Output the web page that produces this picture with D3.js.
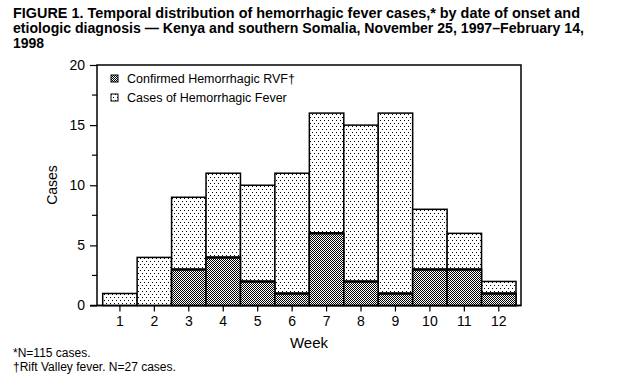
<!DOCTYPE html>
<html>
<head>
<meta charset="utf-8">
<script src="https://cdn.jsdelivr.net/npm/d3@7"></script>
<style>
  body { margin: 0; background: #fff; }
  svg { display: block; font-family: "Liberation Sans", Arial, sans-serif; }
</style>
</head>
<body>
<div id="chart"></div>
<script>
// data
var weeks = ["1", "2", "3", "4", "5", "6", "7", "8", "9", "10", "11", "12"];
var allCases = [1, 4, 9, 11, 10, 11, 16, 15, 16, 8, 6, 2];
var confirmed = [0, 0, 3, 4, 2, 1, 6, 2, 1, 3, 3, 1];
var yTicks = [0, 5, 10, 15, 20];
var yMinorTicks = [2.5, 7.5, 12.5, 17.5];
var legendLabels = ["Confirmed Hemorrhagic RVF\u2020", "Cases of Hemorrhagic Fever"];
var titleLines = [
  "FIGURE 1. Temporal distribution of hemorrhagic fever cases,* by date of onset and",
  "etiologic diagnosis \u2014 Kenya and southern Somalia, November 25, 1997\u2013February 14,",
  "1998"
];
var footnotes = ["*N=115 cases.", "\u2020Rift Valley fever. N=27 cases."];

var width = 623, height = 388;
var frame = { left: 97, right: 521, top: 65, bottom: 305.5 };

var svg = d3.select("#chart").append("svg")
  .attr("width", width)
  .attr("height", height);

svg.append("rect").attr("width", width).attr("height", height).attr("fill", "#fff");

// fill patterns
var defs = svg.append("defs");
var light = defs.append("pattern")
  .attr("id", "light")
  .attr("patternUnits", "userSpaceOnUse")
  .attr("width", 4).attr("height", 6);
light.append("rect").attr("width", 4).attr("height", 6).attr("fill", "#fff");
light.append("rect").attr("x", 0).attr("y", 0).attr("width", 1).attr("height", 1).attr("fill", "#000");
light.append("rect").attr("x", 2).attr("y", 3).attr("width", 1).attr("height", 1).attr("fill", "#000");

var dark = defs.append("pattern")
  .attr("id", "dark")
  .attr("patternUnits", "userSpaceOnUse")
  .attr("width", 2).attr("height", 2);
dark.append("rect").attr("width", 2).attr("height", 2).attr("fill", "#fff");
dark.append("rect").attr("x", 0).attr("y", 0).attr("width", 1).attr("height", 1).attr("fill", "#000");
dark.append("rect").attr("x", 1).attr("y", 1).attr("width", 1).attr("height", 1).attr("fill", "#000");

var x = d3.scaleBand()
  .domain(weeks)
  .range([102.7, 516])
  .padding(0);

var y = d3.scaleLinear()
  .domain([0, 20])
  .range([frame.bottom, frame.top]);

// frame
svg.append("rect")
  .attr("x", frame.left)
  .attr("y", frame.top)
  .attr("width", frame.right - frame.left)
  .attr("height", frame.bottom - frame.top)
  .attr("fill", "none")
  .attr("stroke", "#000")
  .attr("stroke-width", 1.5);

// bars: total cases first, confirmed on top of the bottom part
var rows = weeks.map(function(w, i) {
  return { week: w, total: allCases[i], conf: confirmed[i] };
});

svg.selectAll(".total")
  .data(rows)
  .enter()
  .append("rect")
  .attr("class", "total")
  .attr("x", function(d) { return x(d.week); })
  .attr("y", function(d) { return y(d.total); })
  .attr("width", x.bandwidth())
  .attr("height", function(d) { return y(0) - y(d.total); })
  .attr("fill", "url(#light)")
  .attr("stroke", "#000")
  .attr("stroke-width", 1.5);

svg.selectAll(".conf")
  .data(rows.filter(function(d) { return d.conf > 0; }))
  .enter()
  .append("rect")
  .attr("class", "conf")
  .attr("x", function(d) { return x(d.week); })
  .attr("y", function(d) { return y(d.conf); })
  .attr("width", x.bandwidth())
  .attr("height", function(d) { return y(0) - y(d.conf); })
  .attr("fill", "url(#dark)")
  .attr("stroke", "#000")
  .attr("stroke-width", 1.5);

// thicker line where confirmed meets the rest
svg.selectAll(".split")
  .data(rows.filter(function(d) { return d.conf > 0; }))
  .enter()
  .append("line")
  .attr("x1", function(d) { return x(d.week); })
  .attr("x2", function(d) { return x(d.week) + x.bandwidth(); })
  .attr("y1", function(d) { return y(d.conf); })
  .attr("y2", function(d) { return y(d.conf); })
  .attr("stroke", "#000")
  .attr("stroke-width", 2.5);

// y axis
var yAxis = svg.append("g")
  .attr("transform", "translate(" + frame.left + ",0)")
  .call(d3.axisLeft(y).tickValues(yTicks).tickSize(7).tickPadding(5));
yAxis.select(".domain").remove();
yAxis.selectAll("line").attr("stroke-width", 1.2);
yAxis.selectAll("text")
  .attr("font-size", 14)
  .attr("font-family", "Liberation Sans, Arial, sans-serif")
  .attr("fill", "#000");

svg.selectAll(".minor")
  .data(yMinorTicks)
  .enter()
  .append("line")
  .attr("x1", frame.left - 5)
  .attr("x2", frame.left)
  .attr("y1", function(d) { return y(d); })
  .attr("y2", function(d) { return y(d); })
  .attr("stroke", "#000")
  .attr("stroke-width", 1.2);

// x axis
var xAxis = svg.append("g")
  .attr("transform", "translate(0," + frame.bottom + ")")
  .call(d3.axisBottom(x).tickSize(6).tickPadding(5));
xAxis.select(".domain").remove();
xAxis.selectAll("line").attr("stroke-width", 1.2);
xAxis.selectAll("text")
  .attr("font-size", 14)
  .attr("font-family", "Liberation Sans, Arial, sans-serif")
  .attr("fill", "#000");

svg.append("line")
  .attr("x1", frame.left - 7)
  .attr("x2", frame.right)
  .attr("y1", frame.bottom)
  .attr("y2", frame.bottom)
  .attr("stroke", "#000")
  .attr("stroke-width", 1.5);

svg.append("text")
  .attr("x", (frame.left + frame.right) / 2)
  .attr("y", 348)
  .attr("text-anchor", "middle")
  .attr("font-size", 15)
  .text("Week");

svg.append("text")
  .attr("transform", "translate(57,185) rotate(-90)")
  .attr("text-anchor", "middle")
  .attr("font-size", 14)
  .text("Cases");

// legend
var legendFills = ["url(#dark)", "url(#light)"];
var legend = svg.selectAll(".legend")
  .data(legendLabels)
  .enter()
  .append("g")
  .attr("transform", function(d, i) { return "translate(111," + (75 + i * 19) + ")"; });
legend.append("rect")
  .attr("width", 7)
  .attr("height", 7)
  .attr("fill", function(d, i) { return legendFills[i]; })
  .attr("stroke", "#000")
  .attr("stroke-width", 1);
legend.append("text")
  .attr("x", 16)
  .attr("y", 8)
  .attr("font-size", 12.5)
  .text(function(d) { return d; });

// title
svg.selectAll(".title")
  .data(titleLines)
  .enter()
  .append("text")
  .attr("x", 13)
  .attr("y", function(d, i) { return 18 + i * 15; })
  .attr("font-size", 14)
  .attr("font-weight", "bold")
  .attr("textLength", function(d, i) { return i == 2 ? null : (i == 0 ? 567 : 571); })
  .attr("lengthAdjust", "spacingAndGlyphs")
  .text(function(d) { return d; });

// footnotes
svg.selectAll(".foot")
  .data(footnotes)
  .enter()
  .append("text")
  .attr("x", 13)
  .attr("y", function(d, i) { return 357 + i * 14; })
  .attr("font-size", 12)
  .text(function(d) { return d; });
</script>
</body>
</html>
